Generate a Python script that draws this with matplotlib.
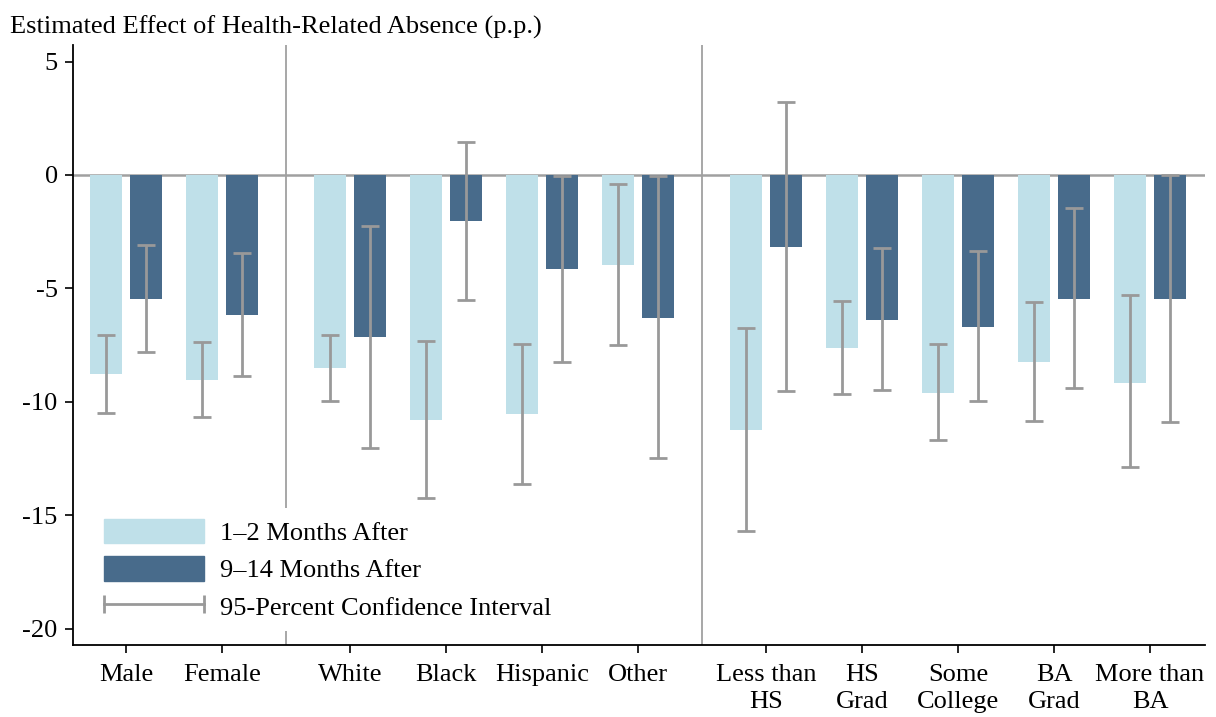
"""
Estimated effect of health-related absence by subgroup, short vs long run
"""

import matplotlib
matplotlib.use("Agg")
import matplotlib.pyplot as plt
from matplotlib.lines import Line2D
from matplotlib.patches import Patch
from matplotlib.legend_handler import HandlerLine2D
import numpy as np

plt.rcParams['font.family'] = ['Liberation Serif', 'DejaVu Serif']
plt.rcParams['axes.unicode_minus'] = False

categories = ['Male', 'Female', 'White', 'Black', 'Hispanic', 'Other',
              'Less than\nHS', 'HS\nGrad', 'Some\nCollege', 'BA\nGrad', 'More than\nBA']
group_sizes = [2, 4, 5]

short_run = [-8.77, -9.04, -8.51, -10.80, -10.54, -3.97, -11.23, -7.61, -9.60, -8.23, -9.16]
short_lo = [-10.48, -10.68, -9.95, -14.24, -13.62, -7.48, -15.70, -9.66, -11.70, -10.83, -12.87]
short_hi = [-7.07, -7.36, -7.04, -7.30, -7.43, -0.38, -6.76, -5.56, -7.47, -5.60, -5.31]

long_run = [-5.47, -6.17, -7.14, -2.03, -4.14, -6.31, -3.16, -6.38, -6.69, -5.45, -5.45]
long_lo = [-7.82, -8.86, -12.02, -5.51, -8.23, -12.47, -9.52, -9.49, -9.96, -9.39, -10.89]
long_hi = [-3.09, -3.44, -2.26, 1.45, -0.03, -0.06, 3.23, -3.20, -3.35, -1.47, 0.0]

light = '#bfe0e9'
dark = '#486b8b'
grey = '#999999'
fs = 19


def group_positions(sizes, gap=1 / 3):
    pos = []
    start = 0.0
    for n in sizes:
        pos.extend(start + np.arange(n))
        start += n + gap
    return np.array(pos)


x = group_positions(group_sizes)
off = 0.209
w = 0.333

fig = plt.figure(figsize=(12.16, 7.17), dpi=100)
ax = fig.add_axes([0.060, 0.1004, 0.931, 0.8373])

ax.axhline(0, color='#a0a0a0', lw=1.8, zorder=1)
for sep in [1 + (1 + 1 / 3) / 2, 5 + 1 / 3 + (1 + 1 / 3) / 2]:
    ax.axvline(sep, color='#a0a0a0', lw=1.3, zorder=1)

ax.bar(x - off, short_run, w, color=light, zorder=2)
ax.bar(x + off, long_run, w, color=dark, zorder=2)

s = np.array(short_run)
l = np.array(long_run)
ax.errorbar(x - off, s, yerr=[s - np.array(short_lo), np.array(short_hi) - s],
            fmt='none', ecolor=grey, elinewidth=2, capsize=6.5, capthick=2, zorder=3)
ax.errorbar(x + off, l, yerr=[l - np.array(long_lo), np.array(long_hi) - l],
            fmt='none', ecolor=grey, elinewidth=2, capsize=6.5, capthick=2, zorder=3)

ax.set_xlim(-0.554, 11.24)
ax.set_ylim(-20.72, 5.745)
ax.set_yticks([5, 0, -5, -10, -15, -20])
ax.set_yticklabels(['5', '0', '-5', '-10', '-15', '-20'])
ax.set_xticks(x)
ax.set_xticklabels(categories, linespacing=1.25)
ax.tick_params(axis='both', labelsize=fs, length=6, width=1.2, color='black')
ax.tick_params(axis='y', pad=5)
ax.tick_params(axis='x', pad=8)

for side in ['top', 'right']:
    ax.spines[side].set_visible(False)
for side in ['left', 'bottom']:
    ax.spines[side].set_linewidth(1.3)

fig.text(0.008, 0.962, 'Estimated Effect of Health-Related Absence (p.p.)',
         fontsize=fs, ha='left', va='center')

ci_handle = Line2D([], [], color=grey, lw=2, marker='|', markersize=13, mew=2)
handles = [Patch(color=light), Patch(color=dark), ci_handle]
labels = ['1–2 Months After', '9–14 Months After', '95-Percent Confidence Interval']
leg = ax.legend(handles, labels, loc='lower left', bbox_to_anchor=(0.018, 0.024),
                borderaxespad=0, fontsize=fs, frameon=True, facecolor='white',
                edgecolor='none', framealpha=1, fancybox=False,
                handlelength=3.8, handleheight=1.05, handletextpad=0.6,
                labelspacing=0.43, borderpad=0.4,
                handler_map={ci_handle: HandlerLine2D(numpoints=2, marker_pad=0)})
leg.set_zorder(5)

fig.savefig('out.png', dpi=100)
